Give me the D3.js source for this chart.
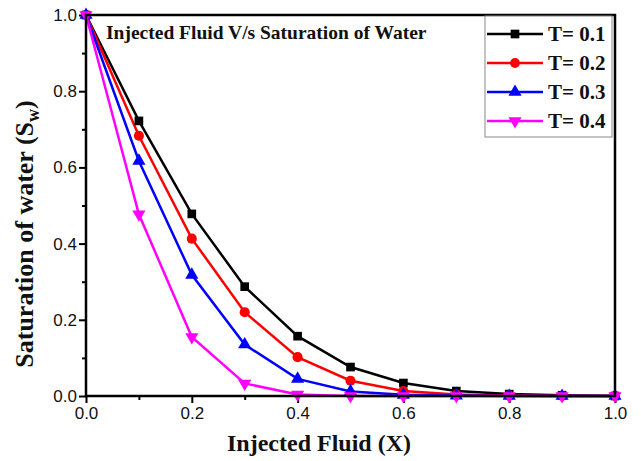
<!DOCTYPE html>
<html>
<head>
<meta charset="utf-8">
<script src="https://cdn.jsdelivr.net/npm/d3@7"></script>
<style>
  body { margin: 0; background: #fff; }
  .tick text { font-family: "Liberation Sans", Arial, sans-serif; font-size: 17px; fill: #111; }
  .axisLabel { font-family: "Liberation Serif", "Times New Roman", serif; font-weight: bold; fill: #111; }
</style>
</head>
<body>
<script>
//chart values
var xValues = [0, 0.1, 0.2, 0.3, 0.4, 0.5, 0.6, 0.7, 0.8, 0.9, 1.0];
var seriesNames = ["T= 0.1", "T= 0.2", "T= 0.3", "T= 0.4"];
var t01 = [1.0, 0.722, 0.478, 0.287, 0.157, 0.076, 0.034, 0.013, 0.005, 0.002, 0.0];
var t02 = [1.0, 0.683, 0.413, 0.220, 0.102, 0.040, 0.013, 0.004, 0.001, 0.0, 0.0];
var t03 = [1.0, 0.617, 0.318, 0.135, 0.045, 0.012, 0.003, 0.001, 0.0, 0.0, 0.0];
var t04 = [1.0, 0.477, 0.155, 0.033, 0.004, 0.0, 0.0, 0.0, 0.0, 0.0, 0.0];
var xTicks = [0, 0.2, 0.4, 0.6, 0.8, 1.0];
var yTicks = [0, 0.2, 0.4, 0.6, 0.8, 1.0];

var colors = ["#000000", "#ff0000", "#0000ff", "#ff00ff"];
var symbols = [d3.symbolSquare, d3.symbolCircle, d3.symbolTriangle, d3.symbolTriangle];
var allSeries = [t01, t02, t03, t04];

var width = 641, height = 461;
var margin = {left: 86, right: 26, top: 15, bottom: 65};

var svg = d3.select("body").append("svg")
    .attr("width", width)
    .attr("height", height);

var x = d3.scaleLinear().domain([0, 1]).range([margin.left, width - margin.right]);
var y = d3.scaleLinear().domain([0, 1]).range([height - margin.bottom, margin.top]);

//minor ticks
var minor = d3.range(0.1, 1, 0.2);
svg.append("g")
    .attr("transform", "translate(0," + y(0) + ")")
    .call(d3.axisBottom(x).tickValues(minor).tickSize(4).tickFormat(""))
    .call(function(g){ g.select(".domain").remove(); })
    .selectAll("line").attr("stroke-width", 2);
svg.append("g")
    .attr("transform", "translate(" + x(0) + ",0)")
    .call(d3.axisLeft(y).tickValues(minor).tickSize(4).tickFormat(""))
    .call(function(g){ g.select(".domain").remove(); })
    .selectAll("line").attr("stroke-width", 2);

//major ticks
var xAxis = svg.append("g")
    .attr("transform", "translate(0," + y(0) + ")")
    .call(d3.axisBottom(x).tickValues(xTicks).tickSize(7).tickPadding(4).tickFormat(d3.format(".1f")));
xAxis.select(".domain").remove();
xAxis.selectAll("line").attr("stroke-width", 2);

var yAxis = svg.append("g")
    .attr("transform", "translate(" + x(0) + ",0)")
    .call(d3.axisLeft(y).tickValues(yTicks).tickSize(7).tickPadding(2).tickFormat(d3.format(".1f")));
yAxis.select(".domain").remove();
yAxis.selectAll("line").attr("stroke-width", 2);

//series lines and markers
var line = d3.line()
    .x(function(d, i){ return x(xValues[i]); })
    .y(function(d){ return y(d); });

allSeries.forEach(function(s, k){
    svg.append("path")
        .datum(s)
        .attr("fill", "none")
        .attr("stroke", colors[k])
        .attr("stroke-width", 2.5)
        .attr("d", line);
});
allSeries.forEach(function(s, k){
    var sz = k === 1 ? 80 : 75;
    svg.selectAll(".m" + k)
        .data(s)
        .enter()
        .append("path")
        .attr("class", "m" + k)
        .attr("fill", colors[k])
        .attr("d", d3.symbol().type(symbols[k]).size(sz))
        .attr("transform", function(d, i){
            var rot = k === 3 ? " rotate(180)" : "";
            return "translate(" + x(xValues[i]) + "," + y(d) + ")" + rot;
        });
});

//frame
svg.append("rect")
    .attr("x", x(0))
    .attr("y", y(1))
    .attr("width", x(1) - x(0))
    .attr("height", y(0) - y(1))
    .attr("fill", "none")
    .attr("stroke", "#000")
    .attr("stroke-width", 2.5);

//inner title
svg.append("text")
    .attr("x", 106)
    .attr("y", 39)
    .attr("font-family", "Liberation Serif, Times New Roman, serif")
    .attr("font-weight", "bold")
    .attr("font-size", 19.5)
    .attr("fill", "#111")
    .text("Injected Fluid V/s Saturation of Water");

//legend
var lg = svg.append("g");
lg.append("rect")
    .attr("x", 485).attr("y", y(1) + 1)
    .attr("width", 127).attr("height", 121)
    .attr("fill", "#fff")
    .attr("stroke", "#888")
    .attr("stroke-width", 1);
seriesNames.forEach(function(name, k){
    var ly = 34 + k * 29;
    lg.append("line")
        .attr("x1", 487).attr("x2", 543)
        .attr("y1", ly).attr("y2", ly)
        .attr("stroke", colors[k]).attr("stroke-width", 2.5);
    lg.append("path")
        .attr("fill", colors[k])
        .attr("d", d3.symbol().type(symbols[k]).size(75))
        .attr("transform", "translate(515," + ly + ")" + (k === 3 ? " rotate(180)" : ""));
    lg.append("text")
        .attr("x", 548).attr("y", ly + 7)
        .attr("font-family", "Liberation Serif, Times New Roman, serif")
        .attr("font-weight", "bold")
        .attr("font-size", 21)
        .attr("fill", "#111")
        .text(name);
});

//axis titles
svg.append("text")
    .attr("class", "axisLabel")
    .attr("font-size", 24)
    .attr("x", 319)
    .attr("y", 451)
    .attr("text-anchor", "middle")
    .text("Injected Fluid (X)");

var yl = svg.append("text")
    .attr("class", "axisLabel")
    .attr("font-size", 26)
    .attr("transform", "translate(33,234) rotate(-90)")
    .attr("text-anchor", "middle");
yl.append("tspan").text("Saturation of water (S");
yl.append("tspan").attr("font-size", 18).attr("dy", 6).text("w");
yl.append("tspan").attr("dy", -6).text(")");
</script>
</body>
</html>
